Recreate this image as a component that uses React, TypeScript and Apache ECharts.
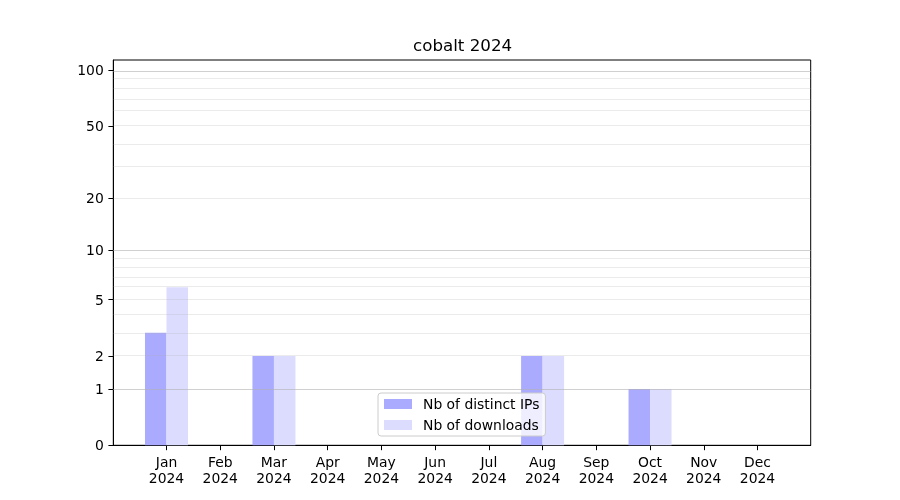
import React, { useEffect, useRef } from "react";
import * as echarts from "echarts";

const months = ["Jan", "Feb", "Mar", "Apr", "May", "Jun", "Jul", "Aug", "Sep", "Oct", "Nov", "Dec"];
const yearLabel = "2024";
const distinctIPs = [3, 0, 2, 0, 0, 0, 0, 2, 0, 1, 0, 0];
const downloads = [6, 0, 2, 0, 0, 0, 0, 2, 0, 1, 0, 0];
const yTicks = [0, 1, 2, 5, 10, 20, 50, 100];
const majorGrid = [1, 10, 100];
const minorGrid = [2, 3, 4, 5, 6, 7, 8, 9, 20, 30, 40, 50, 60, 70, 80, 90];

const tf = (v: number) => Math.log10(1 + v);
const FONT = "DejaVu Sans";

export default function App() {
  const ref = useRef<HTMLDivElement>(null);
  useEffect(() => {
    if (!ref.current) return;
    const chart = echarts.init(ref.current, null, { renderer: "svg" });
    const gridLines = [
      ...minorGrid.map((v) => ({ yAxis: tf(v), lineStyle: { color: "rgba(176,176,176,0.25)", width: 1, type: "solid" } })),
      ...majorGrid.map((v) => ({ yAxis: tf(v), lineStyle: { color: "rgba(176,176,176,0.6)", width: 1, type: "solid" } })),
    ];
    chart.setOption({
      animation: false,
      textStyle: { fontFamily: FONT },
      title: {
        text: "cobalt 2024",
        left: 408,
        top: 31,
        textStyle: { fontFamily: FONT, fontSize: 16.7, fontWeight: "normal", color: "#000" },
      },
      grid: {
        left: 113.3,
        right: 89.3,
        top: 60,
        bottom: 54.7,
        show: true,
        borderColor: "#000",
        borderWidth: 1,
        backgroundColor: "transparent",
      },
      legend: {
        orient: "vertical",
        left: 378,
        top: 393,
        z: 20,
        padding: [4, 6, 4, 6],
        itemWidth: 28,
        itemHeight: 10,
        itemGap: 7,
        backgroundColor: "rgba(255,255,255,0.8)",
        borderColor: "#cccccc",
        borderWidth: 1,
        borderRadius: 3,
        textStyle: { fontFamily: FONT, fontSize: 13.9, color: "#000", lineHeight: 14, padding: [0, 0, 0, 6] },
        data: [
          { name: "Nb of distinct IPs", icon: "rect" },
          { name: "Nb of downloads", icon: "rect" },
        ],
      },
      xAxis: {
        type: "value",
        min: -0.99,
        max: 11.99,
        splitLine: { show: false },
        axisLine: { show: true, onZero: false, lineStyle: { color: "#000", width: 1 } },
        axisTick: { show: true, customValues: months.map((_, i) => i), length: 4.9, lineStyle: { color: "#000" } },
        axisLabel: {
          customValues: months.map((_, i) => i),
          formatter: (v: number) => `${months[Math.round(v)]}\n${yearLabel}`,
          fontFamily: FONT,
          fontSize: 13.9,
          color: "#000",
          lineHeight: 16,
          margin: 9,
        },
      },
      yAxis: {
        type: "value",
        min: 0,
        max: 2.059,
        splitLine: { show: false },
        axisLine: { show: true, onZero: false, lineStyle: { color: "#000", width: 1 } },
        axisTick: { show: true, customValues: yTicks.map(tf), length: 4.9, lineStyle: { color: "#000" } },
        axisLabel: {
          customValues: yTicks.map(tf),
          formatter: (v: number) => `${Math.round(Math.pow(10, v) - 1)}`,
          fontFamily: FONT,
          fontSize: 13.9,
          color: "#000",
          margin: 9.5,
        },
      },
      series: [
        {
          name: "Nb of distinct IPs",
          type: "bar",
          barWidth: 21.5,
          barGap: "-100%",
          itemStyle: { color: "#aaaaff" },
          data: distinctIPs.map((v, i) => [i - 0.2, tf(v)]),
        },
        {
          name: "Nb of downloads",
          type: "bar",
          barWidth: 21.5,
          barGap: "-100%",
          itemStyle: { color: "#dcdcff" },
          data: downloads.map((v, i) => [i + 0.2, tf(v)]),
        },
        {
          name: "grid",
          type: "line",
          z: 5,
          data: [],
          markLine: {
            silent: true,
            symbol: "none",
            z: 5,
            label: { show: false },
            emphasis: { disabled: true },
            data: gridLines,
          },
        },
      ],
    });
    return () => chart.dispose();
  }, []);
  return <div ref={ref} style={{ position: "fixed", left: 0, top: 0, width: 900, height: 500 }} />;
}
